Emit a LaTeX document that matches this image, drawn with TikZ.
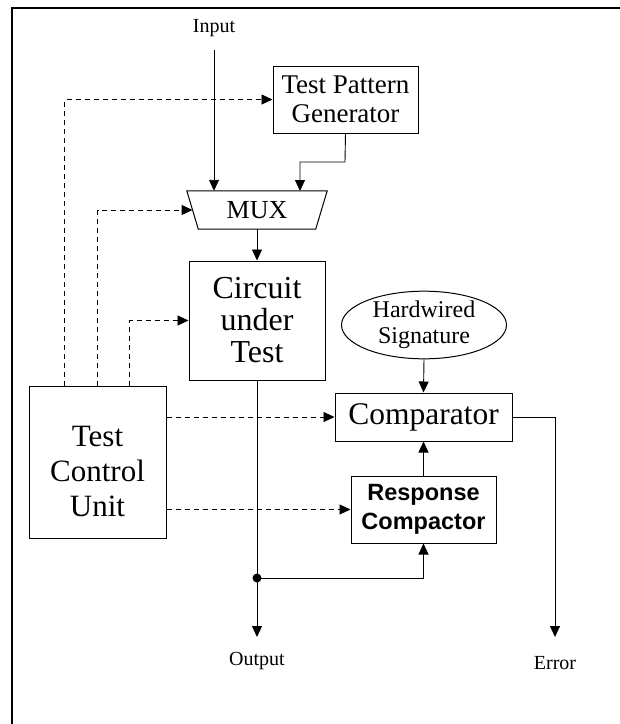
\documentclass[tikz,border=0pt]{standalone}
\usepackage{fontspec}
\setmainfont{Liberation Serif}
\newfontfamily\rcfont{Liberation Sans}
\usetikzlibrary{arrows.meta,shapes.geometric,calc}
\tikzset{
  box/.style={draw, line width=1pt, rectangle, inner sep=0pt, align=center},
  wire/.style={line width=0.9pt, -{Triangle[length=11pt,width=10pt]}},
  ctrl/.style={wire, dash pattern=on 5pt off 4pt},
  lbl/.style={font=\fontsize{20}{22}\selectfont, inner sep=0pt},
}
\begin{document}
\begin{tikzpicture}[x=1pt,y=-1pt]
\useasboundingbox (0,0) rectangle (620,724);
\fill[white] (0,0) rectangle (620,724);
% frame
\draw[line width=2pt] (12,730) -- (12,8) -- (630,8);

% nodes
\node[lbl] (in) at (214,28) {Input};
\node[box, minimum width=145pt, minimum height=67pt, font=\fontsize{27}{30}\selectfont] (tpg) at (345.5,99.5) {Test Pattern\\[-1pt]Generator};
\node[inner sep=0pt, minimum width=128.5pt, minimum height=38pt, font=\fontsize{26}{28}\selectfont] (mux) at (257,210) {MUX};
\draw[line width=1pt] ([xshift=-5.75pt]mux.north west) -- ([xshift=5.75pt]mux.north east)
  -- ([xshift=-5.75pt]mux.south east) -- ([xshift=5.75pt]mux.south west) -- cycle;
\node[box, minimum width=136pt, minimum height=119pt, font=\fontsize{32}{32}\selectfont] (cut) at (257,320.5) {Circuit\\under\\Test};
\node[draw, line width=1pt, ellipse, inner sep=0pt, minimum width=165pt, minimum height=66pt, align=center, font=\fontsize{24}{26}\selectfont] (hs) at (424,325) {Hardwired\\Signature};
\node[box, minimum width=177pt, minimum height=48pt, font=\fontsize{31.5}{33}\selectfont] (cmp) at (423.5,417) {Comparator};
\node[box, minimum width=145pt, minimum height=67pt, font=\rcfont\bfseries\fontsize{23.5}{29}\selectfont] (rc) at (423.5,509.5) {Response\\Compactor};
\node[box, minimum width=137pt, minimum height=152pt] (tcu) at (97.5,462) {};
\node[align=center, inner sep=0pt, font=\fontsize{31}{35}\selectfont] (tcutext) at ([yshift=-9pt]tcu.center) {Test\\Control\\Unit};
\node[lbl] (out) at (257,661) {Output};
\node[lbl] (err) at (555,663) {Error};
\coordinate (outend) at (257,637);
\coordinate (errturn) at (555,417);
\coordinate (errend) at (555,637);
\coordinate (tpgturn) at (345,162);
\coordinate (muxin2) at (300,191);
\coordinate (junc) at (257,578);
\coordinate (inbeg) at (214,50);

% solid connectors
\draw[wire] (inbeg) -- (inbeg |- mux.north);
\draw[wire] (tpg.south) -- (tpgturn) -| (muxin2);
\draw[wire] (mux.south) -- (cut.north);
\draw[wire] (hs.south) -- (cmp.north);
\draw[wire] (rc.north) -- (cmp.south);
\draw[wire] (cut.south) -- (outend);
\draw[wire] (junc) -| (rc.south);
\draw[wire] (cmp.east) -- (errturn) -- (errend);
\fill (junc) circle[radius=4.5pt];

% control (dashed) connectors
\draw[ctrl] ([xshift=36pt]tcu.north west) |- (tpg.west);
\draw[ctrl] ([xshift=69pt]tcu.north west) |- (mux.west);
\draw[ctrl] ([xshift=101pt]tcu.north west) |- (cut.west);
\draw[ctrl] (tcu.east |- cmp.west) -- (cmp.west);
\draw[ctrl] (tcu.east |- rc.west) -- (rc.west);
\end{tikzpicture}
\end{document}
